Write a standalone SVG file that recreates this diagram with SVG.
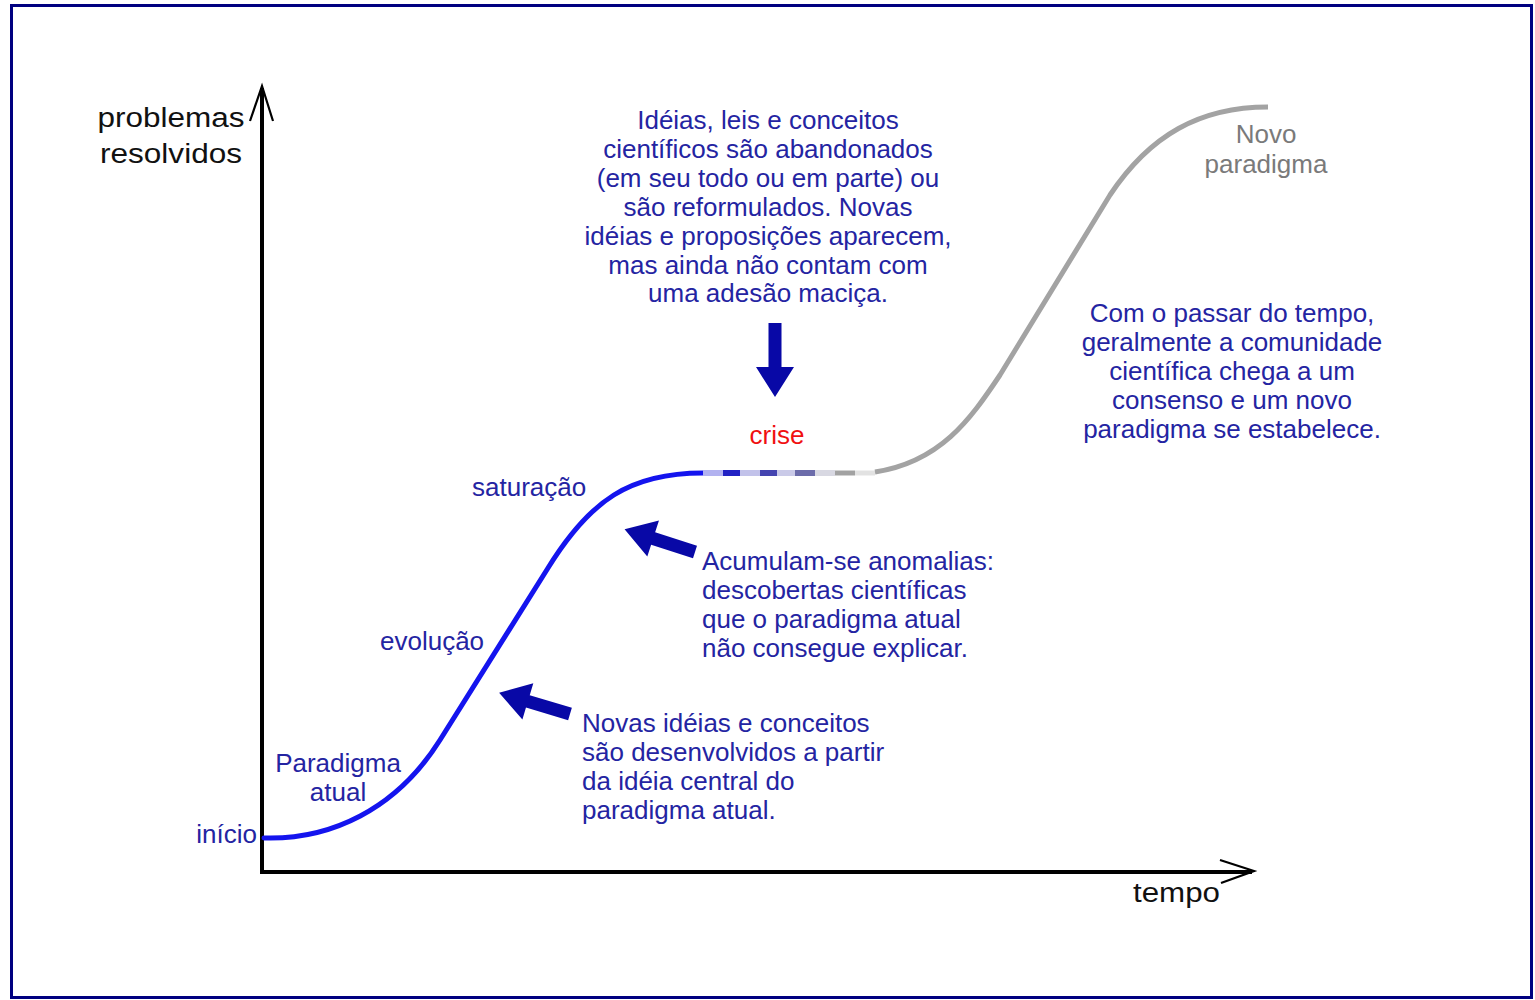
<svg xmlns="http://www.w3.org/2000/svg" width="1535" height="1000" viewBox="0 0 1535 1000">
<style>
text{font-family:"Liberation Sans",Arial,sans-serif;font-size:26px}
.b{fill:#2424a2}
.k{fill:#111;font-size:27px}
.g{fill:#7a7a7a;font-size:26px}
.m{text-anchor:middle}
.e{text-anchor:end}
.ax{stroke:#000;stroke-width:4;fill:none}
.ah{stroke:#000;stroke-width:2.2;fill:none}
.cb{stroke:#1414ee;stroke-width:5;fill:none;stroke-linecap:round}
.cg{stroke:#a3a3a3;stroke-width:5;fill:none}
.ar{fill:#0808a6}
</style>
<defs>
<path id="arr" d="M0,-6.5 L44,-6.5 L44,-19 L74,0 L44,19 L44,6.5 L0,6.5 Z"/>
</defs>
<rect x="0" y="0" width="1535" height="1000" fill="#fff"/>
<rect x="11.5" y="5.5" width="1520" height="992" fill="none" stroke="#000080" stroke-width="3"/>
<g id="connectors">
<path class="ax" d="M262,872 L262,88 M260,872 L1252,872"/>
<path class="ah" d="M250,121 L262,86 L273,121 M1220,860 L1254,871 L1221,883"/>
<path class="cb" d="M264,838 C330,840 396,810 440,740 L548,568 C590,500 630,473 703,473"/>
<g stroke-width="6">
<line x1="703" y1="473" x2="723" y2="473" stroke="#b2b2f0"/>
<line x1="723" y1="473" x2="740" y2="473" stroke="#2222c4"/>
<line x1="740" y1="473" x2="760" y2="473" stroke="#c2c2ea"/>
<line x1="760" y1="473" x2="777" y2="473" stroke="#4444b0"/>
<line x1="777" y1="473" x2="795" y2="473" stroke="#cacae8"/>
<line x1="795" y1="473" x2="815" y2="473" stroke="#6c6caa"/>
<line x1="815" y1="473" x2="835" y2="473" stroke="#d8d8e2"/>
<line x1="835" y1="473" x2="855" y2="473" stroke="#a2a2a2" stroke-width="5"/>
<line x1="855" y1="473" x2="875" y2="473" stroke="#e2e2e2" stroke-width="5"/>
</g>
<path class="cg" d="M875,472 C940,462 970,420 1000,375 L1110,195 C1150,135 1200,107 1268,107"/>
<use href="#arr" class="ar" transform="translate(775,323) rotate(90)"/>
<use href="#arr" class="ar" transform="translate(695,552) rotate(197.9)"/>
<use href="#arr" class="ar" transform="translate(570,714) rotate(196.7)"/>
</g>
<g id="y-label">
<text class="k m" x="171" y="127" textLength="147" lengthAdjust="spacingAndGlyphs">problemas</text>
<text class="k m" x="171" y="163" textLength="142" lengthAdjust="spacingAndGlyphs">resolvidos</text>
</g>
<g id="x-label">
<text class="k" x="1133" y="902" textLength="87" lengthAdjust="spacingAndGlyphs">tempo</text>
</g>
<g id="inicio"><text class="b e" x="257" y="843">início</text></g>
<g id="paradigma-atual">
<text class="b m" x="338" y="772">Paradigma</text>
<text class="b m" x="338" y="801">atual</text>
</g>
<g id="evolucao"><text class="b" x="380" y="650">evolução</text></g>
<g id="saturacao"><text class="b" x="472" y="496">saturação</text></g>
<g id="crise"><text class="m" x="777" y="444" fill="#f01010">crise</text></g>
<g id="top-note">
<text class="b m" x="768" y="129">Idéias, leis e conceitos</text>
<text class="b m" x="768" y="158">científicos são abandonados</text>
<text class="b m" x="768" y="187">(em seu todo ou em parte) ou</text>
<text class="b m" x="768" y="216">são reformulados. Novas</text>
<text class="b m" x="768" y="245">idéias e proposições aparecem,</text>
<text class="b m" x="768" y="274">mas ainda não contam com</text>
<text class="b m" x="768" y="302">uma adesão maciça.</text>
</g>
<g id="anomalias-note">
<text class="b" x="702" y="570">Acumulam-se anomalias:</text>
<text class="b" x="702" y="599">descobertas científicas</text>
<text class="b" x="702" y="628">que o paradigma atual</text>
<text class="b" x="702" y="657">não consegue explicar.</text>
</g>
<g id="novas-note">
<text class="b" x="582" y="732">Novas idéias e conceitos</text>
<text class="b" x="582" y="761">são desenvolvidos a partir</text>
<text class="b" x="582" y="790">da idéia central do</text>
<text class="b" x="582" y="819">paradigma atual.</text>
</g>
<g id="novo-paradigma">
<text class="g m" x="1266" y="143">Novo</text>
<text class="g m" x="1266" y="173">paradigma</text>
</g>
<g id="consenso-note">
<text class="b m" x="1232" y="322">Com o passar do tempo,</text>
<text class="b m" x="1232" y="351">geralmente a comunidade</text>
<text class="b m" x="1232" y="380">científica chega a um</text>
<text class="b m" x="1232" y="409">consenso e um novo</text>
<text class="b m" x="1232" y="438">paradigma se estabelece.</text>
</g>
</svg>
